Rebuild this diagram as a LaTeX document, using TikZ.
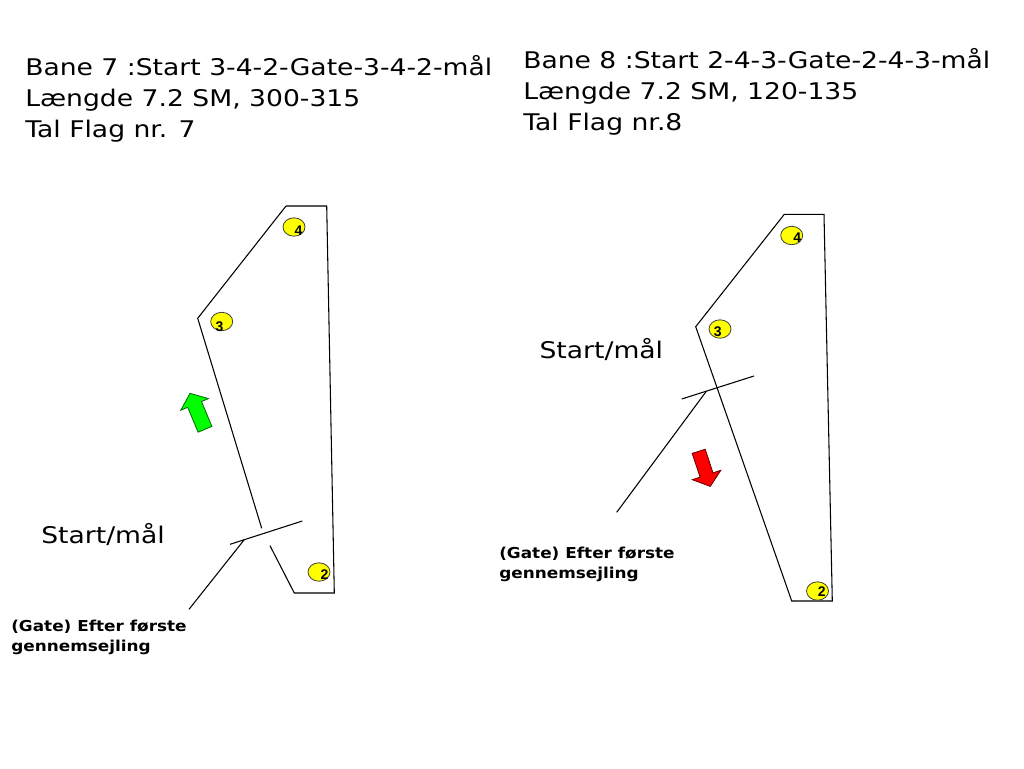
\documentclass[tikz,border=0pt]{standalone}
\usepackage{fontspec}
\setmainfont{DejaVu Sans}
\newfontfamily\wideA[FakeStretch=1.16]{DejaVu Sans}
\newfontfamily\wideB[FakeStretch=1.12]{DejaVu Sans}
\newfontfamily\numfont{Liberation Sans}
\usetikzlibrary{shapes.geometric}
\definecolor{buoyyellow}{RGB}{255,255,0}
\definecolor{arrowgreen}{RGB}{0,255,0}
\definecolor{arrowred}{RGB}{255,0,0}
\begin{document}
\begin{tikzpicture}[x=0.75pt,y=-0.75pt,
  course/.style={draw=black,line width=0.8pt},
  title/.style={anchor=base west,inner sep=0pt,font=\wideA\fontsize{17.2pt}{20pt}\selectfont},
  startlbl/.style={anchor=base west,inner sep=0pt,font=\wideA\fontsize{17.2pt}{20pt}\selectfont},
  gatelbl/.style={anchor=base west,inner sep=0pt,font=\wideB\bfseries\fontsize{11.3pt}{14pt}\selectfont},
  buoy/.style={ellipse,draw=black!75,line width=0.6pt,fill=buoyyellow,minimum width=16.5pt,minimum height=13.8pt,inner sep=0pt},
  num/.style={inner sep=0pt,font=\numfont\bfseries\fontsize{10.5pt}{11pt}\selectfont},
  greenarrow/.style={fill=arrowgreen,draw=green!40!black,line width=0.6pt,line join=miter},
  redarrow/.style={fill=arrowred,draw=red!40!black,line width=0.6pt,line join=miter}]
\useasboundingbox[fill=white] (0,0) rectangle (1024,768);

% ---------- titles ----------
\node[title] (t7a) at (25,75) {Bane 7 :Start 3-4-2-Gate-3-4-2-mål};
\node[title] (t7b) at (25,106) {Længde 7.2 SM, 300-315};
\node[title] (t7c) at (25,137) {Tal Flag nr. 7};
\node[title] (t8a) at (523,68) {Bane 8 :Start 2-4-3-Gate-2-4-3-mål};
\node[title] (t8b) at (523,99) {Længde 7.2 SM, 120-135};
\node[title] (t8c) at (523,130) {Tal Flag nr.8};

% ---------- left course (Bane 7) ----------
\coordinate (L1) at (286,206);
\coordinate (L2) at (326.7,206);
\coordinate (L3) at (334.3,593);
\coordinate (L4) at (294.3,593);
\coordinate (L5) at (270,545.7);
\coordinate (L6) at (261.7,528.3);
\coordinate (L7) at (197.7,318.3);
\draw[course] (L1) -- (L2) -- (L3) -- (L4) -- (L5);
\draw[course] (L6) -- (L7) -- (L1);
\coordinate (gLa) at (230,544.3);
\coordinate (gLb) at (302.3,521);
\draw[course] (gLa) -- (gLb);
\coordinate (gLx) at (244,540);
\coordinate (leadL) at (189,609.3);
\draw[course] (gLx) -- (leadL);

\node[buoy] (bL4) at (294,227) {};
\node[num] (nL4) at (298.5,230.5) {4};
\node[buoy] (bL3) at (221.7,321.5) {};
\node[num] (nL3) at (219.5,326.5) {3};
\node[buoy] (bL2) at (319,572) {};
\node[num] (nL2) at (324.5,574.5) {2};

\draw[greenarrow] (190.0,393.3) -- (208.4,398.6) -- (201.5,401.5) -- (211.9,426.4)
  -- (198.1,432.2) -- (187.7,407.3) -- (180.8,410.2) -- cycle;

\node[startlbl] (sL) at (41,543.3) {Start/mål};
\node[gatelbl] (gL1) at (11,631.7) {(Gate) Efter første};
\node[gatelbl] (gL2) at (11,651.7) {gennemsejling};

% ---------- right course (Bane 8) ----------
\coordinate (R1) at (784.3,214.3);
\coordinate (R2) at (824,214.3);
\coordinate (R3) at (832.3,601);
\coordinate (R4) at (791.7,601);
\coordinate (R5) at (695.7,326.7);
\draw[course] (R1) -- (R2) -- (R3) -- (R4) -- (R5) -- cycle;
\coordinate (gRa) at (681.7,399);
\coordinate (gRb) at (754,376);
\draw[course] (gRa) -- (gRb);
\coordinate (gRx) at (706,391.7);
\coordinate (leadR) at (616.7,512.3);
\draw[course] (gRx) -- (leadR);

\node[buoy] (bR4) at (791.7,235.5) {};
\node[num] (nR4) at (797.3,238) {4};
\node[buoy] (bR3) at (720,329) {};
\node[num] (nR3) at (717.7,332) {3};
\node[buoy] (bR2) at (817.5,591) {};
\node[num] (nR2) at (821.7,592) {2};

\draw[redarrow] (692.2,453.4) -- (705.2,449.2) -- (713.0,472.9) -- (720.8,470.3)
  -- (710.3,486.4) -- (692.3,479.7) -- (700.1,477.1) -- cycle;

\node[startlbl] (sR) at (539.3,358.3) {Start/mål};
\node[gatelbl] (gR1) at (499,558) {(Gate) Efter første};
\node[gatelbl] (gR2) at (499,578.5) {gennemsejling};
\end{tikzpicture}
\end{document}
